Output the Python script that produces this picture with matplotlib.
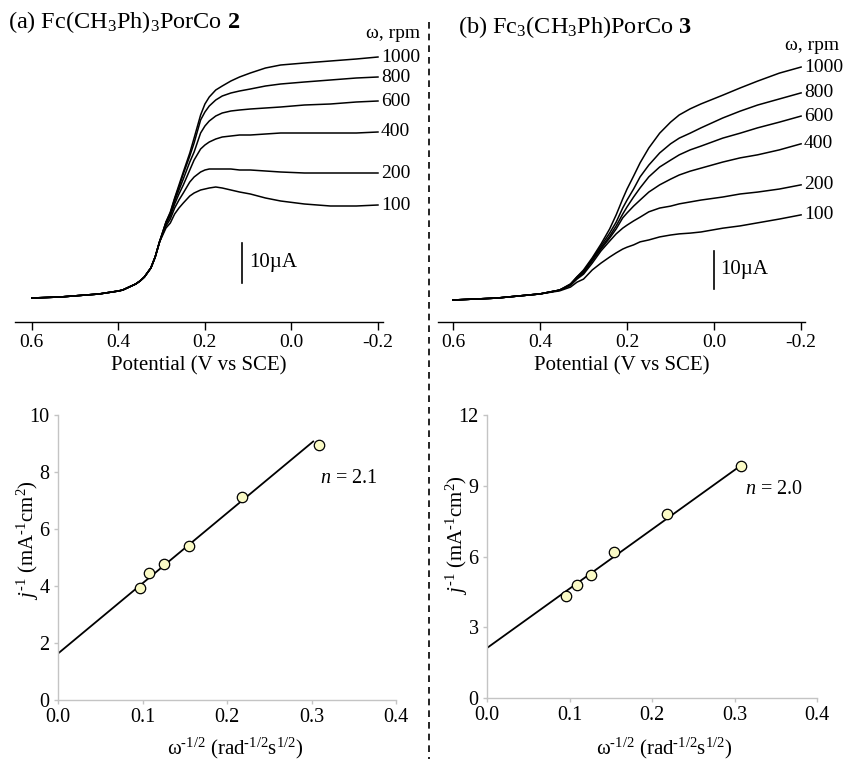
import matplotlib
matplotlib.use('Agg')
import matplotlib.pyplot as plt
from matplotlib.lines import Line2D
from matplotlib.ticker import FormatStrFormatter

W, H = 843, 759
plt.rcParams['font.family'] = ['Liberation Serif', 'DejaVu Serif']
plt.rcParams['mathtext.fontset'] = 'custom'
plt.rcParams['mathtext.rm'] = 'Liberation Serif'
plt.rcParams['mathtext.it'] = 'Liberation Serif:italic'
plt.rcParams['mathtext.bf'] = 'Liberation Serif:bold'

# ---------------- data ----------------
rpm = [1000, 800, 600, 400, 200, 100]

# (a) RDE voltammograms, Fc(CH3Ph)3PorCo 2  (current in uA)
pot_a = [0.60, 0.535, 0.445, 0.40, 0.39, 0.375, 0.36, 0.35, 0.34, 0.325, 0.315, 0.305,
         0.29, 0.28, 0.27, 0.26, 0.25, 0.235, 0.225, 0.21, 0.20, 0.19, 0.175, 0.16,
         0.14, 0.12, 0.095, 0.06, 0.025, -0.03, -0.09, -0.15, -0.20]
base_a = [0, 0.25, 1.0, 1.75, 2.0, 2.75, 3.5, 4.25, 5.25, 7.5, 10.25, 14.0]
cur_a_1000 = base_a + [19.0, 21.5, 25.0, 28.25, 31.5, 36.25, 40.0, 45.75, 48.5, 50.25, 52.0,
                       53.0, 54.25, 55.25, 56.25, 57.5, 58.25, 58.75, 59.25, 59.75, 60.25]
cur_a_800 = base_a + [19.0, 21.25, 24.75, 27.75, 31.0, 35.5, 38.75, 44.5, 46.5, 48.0, 49.5,
                      50.5, 51.25, 51.75, 52.25, 53.0, 53.5, 54.0, 54.5, 55.0, 55.25]
cur_a_600 = base_a + [18.75, 21.0, 24.25, 27.0, 29.75, 34.0, 36.5, 41.25, 43.0, 44.25, 45.5,
                      46.25, 46.75, 47.0, 47.25, 47.5, 47.75, 48.25, 48.5, 49.0, 49.25]
cur_a_400 = base_a + [18.5, 20.5, 23.5, 26.0, 28.25, 32.0, 34.5, 37.25, 38.25, 39.0, 39.75,
                      40.25, 40.5, 40.75, 40.75, 41.0, 41.25, 41.25, 41.25, 41.25, 41.5]
cur_a_200 = base_a + [18.0, 19.75, 22.5, 24.5, 26.25, 29.0, 30.25, 31.5, 32.0, 32.25, 32.25,
                      32.25, 32.25, 32.0, 32.0, 31.75, 31.5, 31.25, 31.25, 31.25, 31.25]
cur_a_100 = base_a + [17.5, 18.75, 21.0, 22.5, 23.75, 25.5, 26.25, 27.0, 27.25, 27.5, 27.75,
                      27.5, 27.0, 26.5, 26.0, 25.0, 24.25, 23.5, 23.0, 23.0, 23.25]
curves_a = [cur_a_1000, cur_a_800, cur_a_600, cur_a_400, cur_a_200, cur_a_100]

# (b) RDE voltammograms, Fc3(CH3Ph)PorCo 3  (current in uA)
pot_b = [0.60, 0.50, 0.40, 0.355, 0.33, 0.315, 0.30, 0.28, 0.26, 0.24, 0.225,
         0.21, 0.20, 0.185, 0.17, 0.15, 0.125, 0.10, 0.08, 0.055, 0.03,
         -0.02, -0.06, -0.10, -0.15, -0.20]
base_b = [0, 0.5, 1.6]
cur_b_1000 = base_b + [2.6, 4.2, 6.1, 7.9, 11.1, 14.7, 18.7, 22.4, 26.6, 29.2, 32.6, 36.1,
                       40.0, 43.9, 46.8, 48.7, 50.3, 51.6, 53.9, 55.8, 57.6, 59.7, 61.3]
cur_b_800 = base_b + [2.6, 4.2, 6.1, 7.6, 10.8, 14.2, 17.6, 20.5, 24.2, 26.3, 29.2, 32.4,
                      35.5, 38.7, 41.1, 42.6, 43.9, 45.3, 47.9, 49.7, 51.3, 52.9, 54.5]
cur_b_600 = base_b + [2.6, 3.9, 5.8, 7.4, 10.5, 13.7, 16.8, 19.5, 22.6, 24.5, 27.1, 29.5,
                      32.4, 35.0, 36.8, 38.2, 39.5, 40.5, 42.6, 43.9, 45.3, 46.8, 48.4]
cur_b_400 = base_b + [2.6, 3.9, 5.8, 7.1, 10.3, 13.4, 16.3, 18.7, 21.6, 22.9, 24.7, 26.3,
                      28.4, 30.3, 31.8, 32.9, 33.9, 34.7, 36.3, 37.4, 38.2, 39.5, 41.1]
cur_b_200 = base_b + [2.6, 3.9, 5.5, 6.8, 9.7, 12.9, 15.5, 17.4, 18.9, 19.7, 20.8, 21.8,
                      23.2, 24.2, 24.7, 25.3, 25.8, 26.3, 27.1, 27.9, 28.4, 29.2, 30.3]
cur_b_100 = base_b + [2.4, 3.4, 4.7, 5.5, 7.9, 9.7, 11.3, 12.4, 13.4, 13.9, 14.5, 15.3,
                      15.8, 16.6, 17.1, 17.4, 17.6, 17.9, 18.9, 19.5, 20.3, 21.3, 22.4]
curves_b = [cur_b_1000, cur_b_800, cur_b_600, cur_b_400, cur_b_200, cur_b_100]

# Koutecky-Levich plots
kl_x_c = [0.097, 0.108, 0.125, 0.1545, 0.218, 0.309]
kl_y_c = [3.92, 4.44, 4.76, 5.40, 7.11, 8.95]
fit_x_c = [0.0, 0.302]
fit_y_c = [1.63, 9.07]

kl_x_d = [0.096, 0.109, 0.1265, 0.1535, 0.218, 0.308]
kl_y_d = [4.33, 4.80, 5.20, 6.18, 7.79, 9.85]
fit_x_d = [0.0, 0.303]
fit_y_d = [2.12, 9.74]

xticks_top = [0.6, 0.4, 0.2, 0.0, -0.2]
xtick_labels_top = ['0.6', '0.4', '0.2', '0.0', '-0.2']
xticks_bot = [0.0, 0.1, 0.2, 0.3, 0.4]
yticks_c = [0, 2, 4, 6, 8, 10]
yticks_d = [0, 3, 6, 9, 12]

# ---------------- figure ----------------
fig = plt.figure(figsize=(W / 100, H / 100), dpi=100)


def rect(l, t, r, b):
    return [l / W, 1 - b / H, (r - l) / W, (b - t) / H]


def fx(p):
    return p / W


def fy(p):
    return 1 - p / H


def rde_axes(r, xlim, ylim, pot, curves, bar_x, bar_y, bar_txt_x, bar_txt_y):
    ax = fig.add_axes(r)
    for c, lab in zip(curves, rpm):
        ax.plot(pot, c, color='black', lw=1.1, solid_joinstyle='round')
        ax.annotate(str(lab), xy=(pot[-1], c[-1]), xytext=(2, 0),
                    textcoords='offset points', va='center', ha='left',
                    fontsize=14, annotation_clip=False)
    ax.plot([bar_x, bar_x], bar_y, color='black', lw=1.2)
    ax.text(bar_txt_x, bar_txt_y, '10µA', fontsize=15, va='center', ha='left')
    ax.set_xlim(*xlim)
    ax.set_ylim(*ylim)
    for s in ['left', 'top', 'right']:
        ax.spines[s].set_visible(False)
    ax.spines['bottom'].set_linewidth(1.0)
    ax.set_yticks([])
    ax.set_xticks(xticks_top)
    ax.set_xticklabels(xtick_labels_top)
    ax.tick_params(axis='x', direction='out', length=5.5, width=1.0,
                   labelsize=14, pad=3)
    ax.set_xlabel('Potential (V vs SCE)', fontsize=15, labelpad=4)
    ax.patch.set_alpha(0)
    return ax


ax_a = rde_axes(rect(15, 30, 383, 322), (0.639, -0.2116), (-6.0, 67.0),
                pot_a, curves_a, 0.115, [3.75, 13.75], 0.097, 8.9)
ax_b = rde_axes(rect(438, 30, 805, 322), (0.6345, -0.209), (-5.79, 71.05),
                pot_b, curves_b, 0.0, [2.9, 12.9], -0.014, 7.9)

fig.text(fx(8), fy(22), r'(a) Fc(CH$_3$Ph)$_3$PorCo $\mathbf{2}$', fontsize=17.5,
         ha='left', va='center')
fig.text(fx(458), fy(27), r'(b) Fc$_3$(CH$_3$Ph)PorCo $\mathbf{3}$', fontsize=17.5,
         ha='left', va='center')
fig.text(fx(420), fy(33), 'ω, rpm', fontsize=14, ha='right', va='center')
fig.text(fx(839), fy(45), 'ω, rpm', fontsize=14, ha='right', va='center')


def kl_axes(r, xs, ys, fx_, fy_, yticks, ntext, nxy, ylab_xy, xlab_xy):
    ax = fig.add_axes(r)
    ax.plot(fx_, fy_, color='black', lw=1.3, zorder=2)
    ax.plot(xs, ys, 'o', ms=7.5, mfc='#fbfbc6', mec='black', mew=0.9,
            zorder=3, clip_on=False)
    ax.set_xlim(0, 0.4)
    ax.set_ylim(yticks[0], yticks[-1])
    ax.set_xticks(xticks_bot)
    ax.set_yticks(yticks)
    ax.xaxis.set_major_formatter(FormatStrFormatter('%.1f'))
    for s in ['top', 'right']:
        ax.spines[s].set_visible(False)
    for s in ['left', 'bottom']:
        ax.spines[s].set_color('#c4c4c4')
        ax.spines[s].set_linewidth(1.0)
    ax.tick_params(direction='out', length=3, width=1.0, color='#c4c4c4',
                   labelsize=14.5, pad=3)
    ax.text(nxy[0], nxy[1], ntext, fontsize=14.5, ha='left', va='center')
    fig.text(fx(ylab_xy[0]), fy(ylab_xy[1]),
             '$j^{\u20101}$ (mA$^{\u20101}$cm$^{2}$)', rotation=90,
             fontsize=15, ha='center', va='center')
    fig.text(fx(xlab_xy[0]), fy(xlab_xy[1]),
             'ω$^{\u20101/2}$ (rad$^{\u20101/2}$s$^{1/2}$)',
             fontsize=15, ha='center', va='center')
    ax.patch.set_alpha(0)
    return ax


ax_c = kl_axes(rect(58, 415, 396, 700), kl_x_c, kl_y_c, fit_x_c, fit_y_c,
               yticks_c, r'$n$ = 2.1', (0.310, 7.78), (28, 540), (235, 748))
ax_d = kl_axes(rect(487, 415, 817, 698), kl_x_d, kl_y_d, fit_x_d, fit_y_d,
               yticks_d, r'$n$ = 2.0', (0.313, 8.82), (457, 535), (664, 748))

fig.add_artist(Line2D([fx(429), fx(429)], [fy(22), fy(759)], color='black',
                      lw=1.2, ls=(0, (4, 3)), transform=fig.transFigure))

fig.savefig('out.png', dpi=100)
